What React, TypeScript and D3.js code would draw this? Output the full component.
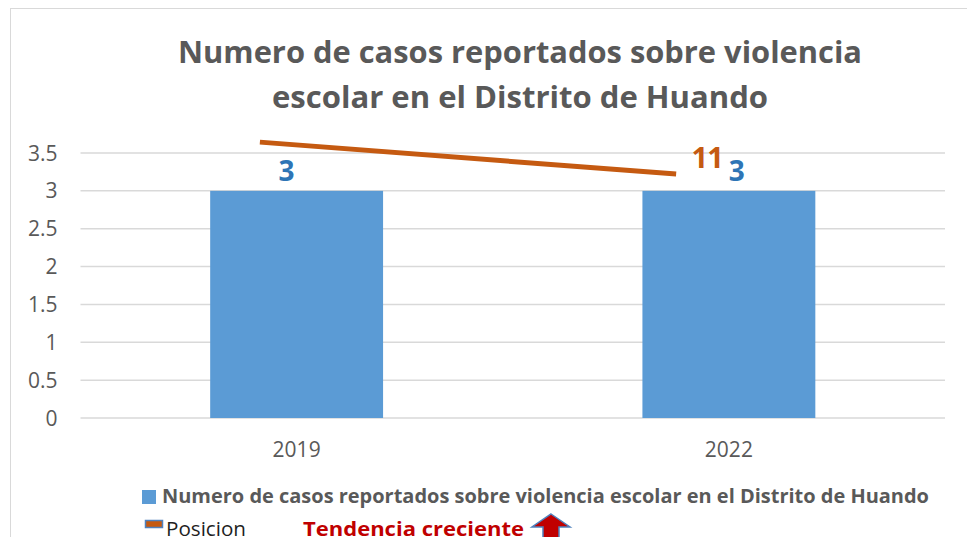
import React, { useEffect, useRef } from "react";
import * as d3 from "d3";

// chart values
const years = ["2019", "2022"];
const casos = [3, 3];
const yTicks = [0, 0.5, 1, 1.5, 2, 2.5, 3, 3.5];
// "Posicion" line, drawn on a hidden secondary axis
const posicion = [12, 11];
const posicionX = [-0.085, 0.878]; // position in category units (0 = first year)
const posDomain = [3.37, 11.66];
const titleLines = [
  "Numero de casos reportados sobre violencia",
  "escolar en el Distrito de Huando",
];
const serieName = "Numero de casos reportados sobre violencia escolar en el Distrito de Huando";
const lineName = "Posicion";
const trendText = "Tendencia creciente";

const FONT = "'Open Sans', sans-serif";
const GRAY = "#595959";

export default function App() {
  const ref = useRef<SVGSVGElement>(null);

  useEffect(() => {
    const W = 967, H = 537;
    const margin = { top: 153, right: 22, bottom: 119, left: 80.5 };
    const w = W - margin.left - margin.right;
    const h = H - margin.top - margin.bottom;

    const svg = d3.select(ref.current);
    svg.selectAll("*").remove();

    // chart border
    svg.append("rect")
      .attr("x", 10.5).attr("y", 8.5)
      .attr("width", W + 20).attr("height", H + 20)
      .attr("fill", "white")
      .attr("stroke", "#d9d9d9");

    const g = svg.append("g").attr("transform", `translate(${margin.left},${margin.top})`);

    const x = d3.scaleBand().domain(years).range([0, w]).paddingInner(0.6).paddingOuter(0.3);
    const y = d3.scaleLinear().domain([0, 3.5]).range([h, 0]);
    const yPos = d3.scaleLinear().domain(posDomain).range([h, 0]);
    const center = (i: number) => x(years[i])! + x.bandwidth() / 2;
    const xPos = d3.scaleLinear().domain([0, 1]).range([center(0), center(1)]);

    // gridlines
    g.selectAll(".grid")
      .data(yTicks)
      .join("line")
      .attr("x1", 0).attr("x2", w)
      .attr("y1", d => y(d)).attr("y2", d => y(d))
      .attr("stroke", "#d9d9d9").attr("stroke-width", 1.5);

    // y tick labels
    g.selectAll(".ytick")
      .data(yTicks)
      .join("text")
      .attr("x", -23).attr("y", d => y(d))
      .attr("dy", "0.36em")
      .attr("text-anchor", "end")
      .attr("font-family", FONT).attr("font-size", 21).attr("fill", GRAY)
      .text(d => String(d));

    // x labels
    g.selectAll(".xtick")
      .data(years)
      .join("text")
      .attr("x", (d, i) => center(i)).attr("y", h + 39)
      .attr("text-anchor", "middle")
      .attr("font-family", FONT).attr("font-size", 21).attr("fill", GRAY)
      .text(d => d);

    // bars
    g.selectAll(".bar")
      .data(casos)
      .join("rect")
      .attr("x", (d, i) => x(years[i])!)
      .attr("y", d => y(d))
      .attr("width", x.bandwidth())
      .attr("height", d => h - y(d))
      .attr("fill", "#5b9bd5");

    // bar labels
    const labelShift = [-10, 8];
    g.selectAll(".blabel")
      .data(casos)
      .join("text")
      .attr("x", (d, i) => center(i) + labelShift[i])
      .attr("y", d => y(d) - 10)
      .attr("text-anchor", "middle")
      .attr("font-family", FONT).attr("font-weight", 700).attr("font-size", 28)
      .attr("fill", "#2e75b6")
      .text(d => String(d));

    // Posicion line
    const line = d3.line<number>()
      .x((d, i) => xPos(posicionX[i]))
      .y(d => yPos(d));
    g.append("path")
      .datum(posicion)
      .attr("d", line)
      .attr("fill", "none")
      .attr("stroke", "#c55a11")
      .attr("stroke-width", 5);

    const last = posicion.length - 1;
    g.append("text")
      .attr("x", xPos(posicionX[last]) + 31)
      .attr("y", yPos(posicion[last]) - 6)
      .attr("text-anchor", "middle")
      .attr("font-family", FONT).attr("font-weight", 700).attr("font-size", 29)
      .attr("letter-spacing", -1)
      .attr("fill", "#c55a11")
      .text(String(posicion[last]));

    // title
    const titleWidths = [684, 496];
    svg.selectAll(".title")
      .data(titleLines)
      .join("text")
      .attr("x", 520).attr("y", (d, i) => 63 + i * 45)
      .attr("text-anchor", "middle")
      .attr("textLength", (d, i) => titleWidths[i])
      .attr("lengthAdjust", "spacingAndGlyphs")
      .attr("font-family", FONT).attr("font-weight", 700).attr("font-size", 29.5)
      .attr("fill", GRAY)
      .text(d => d);

    // legend
    const lg = svg.append("g");
    lg.append("rect").attr("x", 142).attr("y", 490).attr("width", 14).attr("height", 14).attr("fill", "#5b9bd5");
    lg.append("text")
      .attr("x", 162).attr("y", 503)
      .attr("textLength", 767).attr("lengthAdjust", "spacingAndGlyphs")
      .attr("font-family", FONT).attr("font-weight", 700).attr("font-size", 19.5)
      .attr("fill", GRAY)
      .text(serieName);

    lg.append("rect").attr("x", 145.5).attr("y", 520.5).attr("width", 17).attr("height", 7)
      .attr("fill", "#c55a11").attr("stroke", "#4f81bd").attr("stroke-width", 1.5);
    lg.append("text")
      .attr("x", 166).attr("y", 536)
      .attr("textLength", 80).attr("lengthAdjust", "spacingAndGlyphs")
      .attr("font-family", FONT).attr("font-size", 19.5)
      .attr("fill", "#1f1f1f")
      .text(lineName);

    lg.append("text")
      .attr("x", 303).attr("y", 536)
      .attr("textLength", 221).attr("lengthAdjust", "spacingAndGlyphs")
      .attr("font-family", FONT).attr("font-weight", 700).attr("font-size", 20)
      .attr("fill", "#c00000")
      .text(trendText);

    // up arrow
    const arrow = d3.path();
    arrow.moveTo(551, 514);
    arrow.lineTo(570, 527);
    arrow.lineTo(559, 527);
    arrow.lineTo(559, 540);
    arrow.lineTo(543, 540);
    arrow.lineTo(543, 527);
    arrow.lineTo(532, 527);
    arrow.closePath();
    lg.append("path")
      .attr("d", arrow.toString())
      .attr("fill", "#c00000")
      .attr("stroke", "#4f81bd")
      .attr("stroke-width", 1.5);
  }, []);

  return (
    <svg ref={ref} width={967} height={537}
      style={{ position: "absolute", left: 0, top: 0, display: "block" }} />
  );
}
